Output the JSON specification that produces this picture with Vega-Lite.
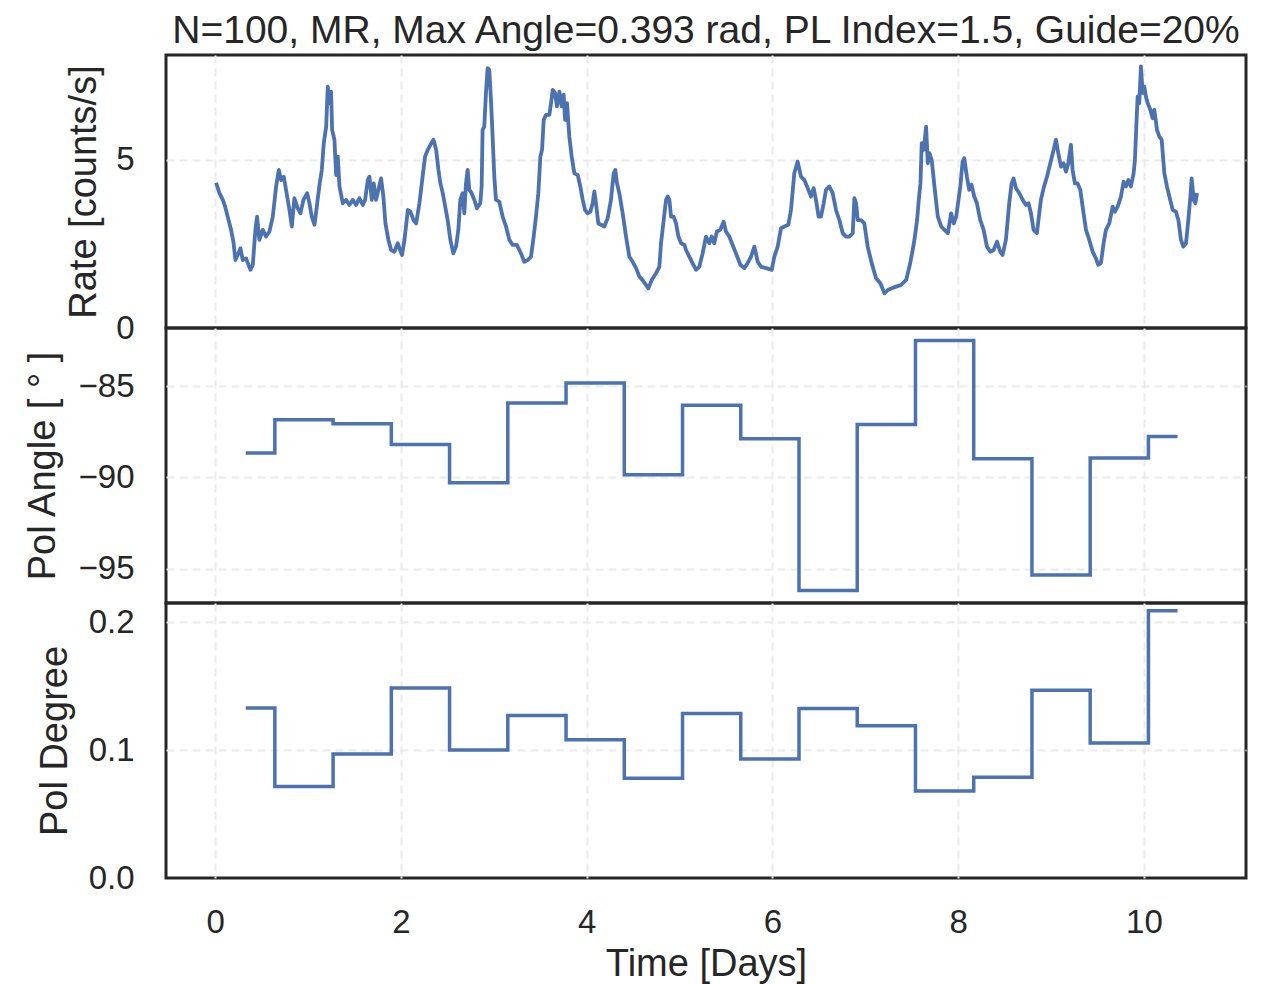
{
  "$schema": "https://vega.github.io/schema/vega-lite/v6.json",
  "background": "white",
  "padding": {"left": 22, "top": 10, "right": 10, "bottom": 5},
  "spacing": 0,
  "bounds": "flush",
  "config": {
    "view": {"stroke": "#262626", "strokeWidth": 3},
    "axis": {
      "grid": true, "gridColor": "#ebebeb", "gridDash": [8, 5], "gridWidth": 2,
      "domain": false, "ticks": false,
      "labelFont": "Liberation Sans", "labelFontSize": 33, "labelColor": "#262626", "labelPadding": 32,
      "titleFont": "Liberation Sans", "titleFontSize": 38, "titleFontWeight": "normal", "titleColor": "#262626"
    },
    "axisX": {"labelPadding": 28, "titlePadding": 6},
    "title": {"font": "Liberation Sans", "fontSize": 39, "fontWeight": "normal", "color": "#262626"}
  },
  "datasets": {
    "rate": [
      {"t":0.011,"rate":4.32},{"t":0.047,"rate":4.01},{"t":0.083,"rate":3.81},{"t":0.108,"rate":3.61},{"t":0.136,"rate":3.31},
      {"t":0.172,"rate":2.92},{"t":0.197,"rate":2.57},{"t":0.219,"rate":2.02},{"t":0.251,"rate":2.22},{"t":0.273,"rate":2.37},
      {"t":0.298,"rate":2.02},{"t":0.334,"rate":2.07},{"t":0.381,"rate":1.73},{"t":0.406,"rate":1.88},{"t":0.434,"rate":2.92},
      {"t":0.452,"rate":3.31},{"t":0.477,"rate":2.62},{"t":0.513,"rate":2.92},{"t":0.549,"rate":2.72},{"t":0.585,"rate":2.87},
      {"t":0.621,"rate":3.31},{"t":0.657,"rate":4.21},{"t":0.686,"rate":4.70},{"t":0.711,"rate":4.40},{"t":0.740,"rate":4.50},
      {"t":0.776,"rate":3.91},{"t":0.801,"rate":3.51},{"t":0.826,"rate":3.02},{"t":0.854,"rate":3.86},{"t":0.890,"rate":3.56},
      {"t":0.919,"rate":3.41},{"t":0.951,"rate":3.81},{"t":0.991,"rate":4.01},{"t":1.016,"rate":3.71},{"t":1.041,"rate":3.31},
      {"t":1.070,"rate":3.07},{"t":1.095,"rate":3.61},{"t":1.124,"rate":4.26},{"t":1.149,"rate":4.70},{"t":1.170,"rate":5.50},
      {"t":1.196,"rate":5.99},{"t":1.213,"rate":7.18},{"t":1.231,"rate":6.69},{"t":1.249,"rate":7.03},{"t":1.260,"rate":5.89},
      {"t":1.285,"rate":5.60},{"t":1.303,"rate":4.55},{"t":1.321,"rate":5.10},{"t":1.339,"rate":4.21},{"t":1.375,"rate":3.71},
      {"t":1.411,"rate":3.81},{"t":1.446,"rate":3.66},{"t":1.482,"rate":3.81},{"t":1.518,"rate":3.66},{"t":1.554,"rate":3.86},
      {"t":1.590,"rate":3.66},{"t":1.615,"rate":3.81},{"t":1.644,"rate":4.40},{"t":1.662,"rate":4.50},{"t":1.687,"rate":3.81},
      {"t":1.708,"rate":4.30},{"t":1.733,"rate":3.81},{"t":1.758,"rate":4.11},{"t":1.787,"rate":4.45},{"t":1.812,"rate":3.91},
      {"t":1.834,"rate":3.11},{"t":1.866,"rate":2.62},{"t":1.895,"rate":2.32},{"t":1.931,"rate":2.27},{"t":1.967,"rate":2.52},
      {"t":1.992,"rate":2.32},{"t":2.013,"rate":2.17},{"t":2.039,"rate":2.62},{"t":2.075,"rate":3.51},{"t":2.103,"rate":3.46},
      {"t":2.136,"rate":3.21},{"t":2.164,"rate":3.11},{"t":2.200,"rate":3.71},{"t":2.236,"rate":4.55},{"t":2.261,"rate":5.10},
      {"t":2.290,"rate":5.30},{"t":2.318,"rate":5.45},{"t":2.351,"rate":5.60},{"t":2.380,"rate":5.30},{"t":2.405,"rate":4.70},
      {"t":2.426,"rate":4.30},{"t":2.451,"rate":4.01},{"t":2.504,"rate":3.21},{"t":2.533,"rate":2.62},{"t":2.565,"rate":2.22},
      {"t":2.594,"rate":2.42},{"t":2.619,"rate":2.92},{"t":2.640,"rate":3.81},{"t":2.665,"rate":4.01},{"t":2.683,"rate":3.41},
      {"t":2.701,"rate":4.30},{"t":2.719,"rate":4.70},{"t":2.737,"rate":4.11},{"t":2.762,"rate":4.01},{"t":2.791,"rate":3.81},
      {"t":2.819,"rate":3.56},{"t":2.855,"rate":3.71},{"t":2.870,"rate":4.21},{"t":2.880,"rate":5.89},{"t":2.898,"rate":5.99},
      {"t":2.916,"rate":6.98},{"t":2.934,"rate":7.73},{"t":2.952,"rate":7.68},{"t":2.970,"rate":6.79},{"t":2.988,"rate":5.69},
      {"t":3.006,"rate":4.50},{"t":3.024,"rate":3.81},{"t":3.060,"rate":3.76},{"t":3.096,"rate":3.31},{"t":3.132,"rate":3.02},
      {"t":3.168,"rate":2.62},{"t":3.204,"rate":2.47},{"t":3.250,"rate":2.47},{"t":3.293,"rate":2.22},{"t":3.329,"rate":1.97},
      {"t":3.365,"rate":2.02},{"t":3.401,"rate":2.12},{"t":3.430,"rate":2.72},{"t":3.455,"rate":3.31},{"t":3.480,"rate":4.01},
      {"t":3.502,"rate":5.10},{"t":3.520,"rate":5.30},{"t":3.538,"rate":6.19},{"t":3.563,"rate":6.34},{"t":3.599,"rate":6.34},
      {"t":3.617,"rate":6.69},{"t":3.635,"rate":7.08},{"t":3.660,"rate":6.99},{"t":3.681,"rate":6.59},{"t":3.707,"rate":7.03},
      {"t":3.732,"rate":6.59},{"t":3.753,"rate":6.94},{"t":3.768,"rate":6.19},{"t":3.789,"rate":6.69},{"t":3.814,"rate":5.69},
      {"t":3.839,"rate":5.10},{"t":3.868,"rate":4.60},{"t":3.904,"rate":4.55},{"t":3.932,"rate":4.21},{"t":3.958,"rate":3.81},
      {"t":3.983,"rate":3.51},{"t":4.011,"rate":3.41},{"t":4.040,"rate":3.46},{"t":4.065,"rate":3.71},{"t":4.083,"rate":4.06},
      {"t":4.101,"rate":3.71},{"t":4.126,"rate":3.11},{"t":4.154,"rate":3.07},{"t":4.190,"rate":3.02},{"t":4.226,"rate":3.26},
      {"t":4.262,"rate":3.81},{"t":4.291,"rate":4.60},{"t":4.309,"rate":4.70},{"t":4.327,"rate":4.30},{"t":4.352,"rate":4.01},
      {"t":4.388,"rate":3.41},{"t":4.424,"rate":2.72},{"t":4.460,"rate":2.12},{"t":4.496,"rate":1.97},{"t":4.532,"rate":1.78},
      {"t":4.568,"rate":1.53},{"t":4.614,"rate":1.38},{"t":4.665,"rate":1.18},{"t":4.701,"rate":1.43},{"t":4.747,"rate":1.63},
      {"t":4.783,"rate":1.82},{"t":4.801,"rate":2.52},{"t":4.830,"rate":3.21},{"t":4.855,"rate":3.81},{"t":4.873,"rate":3.91},
      {"t":4.891,"rate":3.81},{"t":4.909,"rate":3.31},{"t":4.937,"rate":3.31},{"t":4.963,"rate":3.11},{"t":4.988,"rate":2.72},
      {"t":5.017,"rate":2.52},{"t":5.053,"rate":2.47},{"t":5.070,"rate":2.32},{"t":5.124,"rate":2.02},{"t":5.178,"rate":1.73},
      {"t":5.213,"rate":1.82},{"t":5.249,"rate":2.22},{"t":5.285,"rate":2.72},{"t":5.320,"rate":2.52},{"t":5.346,"rate":2.72},
      {"t":5.374,"rate":2.52},{"t":5.403,"rate":2.87},{"t":5.439,"rate":2.92},{"t":5.475,"rate":3.16},{"t":5.500,"rate":2.87},
      {"t":5.536,"rate":2.72},{"t":5.572,"rate":2.47},{"t":5.608,"rate":2.22},{"t":5.655,"rate":1.88},{"t":5.698,"rate":1.78},
      {"t":5.734,"rate":1.93},{"t":5.770,"rate":2.12},{"t":5.806,"rate":2.42},{"t":5.842,"rate":1.97},{"t":5.878,"rate":1.82},
      {"t":5.932,"rate":1.78},{"t":5.993,"rate":1.73},{"t":6.021,"rate":2.12},{"t":6.057,"rate":2.42},{"t":6.093,"rate":2.97},
      {"t":6.129,"rate":3.02},{"t":6.172,"rate":3.07},{"t":6.200,"rate":3.51},{"t":6.236,"rate":4.60},{"t":6.272,"rate":4.95},
      {"t":6.308,"rate":4.50},{"t":6.344,"rate":4.40},{"t":6.380,"rate":4.16},{"t":6.416,"rate":3.91},{"t":6.444,"rate":4.16},
      {"t":6.469,"rate":3.81},{"t":6.498,"rate":3.31},{"t":6.523,"rate":3.31},{"t":6.552,"rate":3.71},{"t":6.577,"rate":4.11},
      {"t":6.613,"rate":4.21},{"t":6.649,"rate":4.01},{"t":6.685,"rate":3.51},{"t":6.721,"rate":3.21},{"t":6.757,"rate":2.82},
      {"t":6.793,"rate":2.72},{"t":6.829,"rate":2.72},{"t":6.865,"rate":2.82},{"t":6.883,"rate":3.86},{"t":6.901,"rate":3.71},
      {"t":6.919,"rate":3.21},{"t":6.955,"rate":3.21},{"t":6.990,"rate":3.11},{"t":7.026,"rate":2.42},{"t":7.069,"rate":1.93},
      {"t":7.116,"rate":1.48},{"t":7.163,"rate":1.33},{"t":7.206,"rate":1.03},{"t":7.242,"rate":1.13},{"t":7.285,"rate":1.18},
      {"t":7.332,"rate":1.23},{"t":7.386,"rate":1.28},{"t":7.440,"rate":1.43},{"t":7.475,"rate":1.82},{"t":7.504,"rate":2.22},
      {"t":7.529,"rate":2.62},{"t":7.558,"rate":3.21},{"t":7.576,"rate":3.81},{"t":7.594,"rate":4.30},{"t":7.608,"rate":5.50},
      {"t":7.630,"rate":5.30},{"t":7.655,"rate":5.99},{"t":7.673,"rate":4.90},{"t":7.691,"rate":5.20},{"t":7.716,"rate":4.99},
      {"t":7.745,"rate":4.21},{"t":7.781,"rate":3.31},{"t":7.817,"rate":3.02},{"t":7.853,"rate":2.92},{"t":7.889,"rate":2.82},
      {"t":7.924,"rate":3.41},{"t":7.953,"rate":3.11},{"t":7.978,"rate":3.31},{"t":7.994,"rate":3.61},{"t":8.023,"rate":4.21},
      {"t":8.048,"rate":4.95},{"t":8.066,"rate":5.05},{"t":8.094,"rate":4.50},{"t":8.119,"rate":4.11},{"t":8.144,"rate":4.26},
      {"t":8.173,"rate":3.91},{"t":8.202,"rate":3.71},{"t":8.238,"rate":3.21},{"t":8.274,"rate":2.92},{"t":8.310,"rate":2.42},
      {"t":8.346,"rate":2.27},{"t":8.382,"rate":2.32},{"t":8.418,"rate":2.57},{"t":8.453,"rate":2.27},{"t":8.478,"rate":2.17},
      {"t":8.514,"rate":2.62},{"t":8.550,"rate":3.71},{"t":8.575,"rate":4.30},{"t":8.597,"rate":4.45},{"t":8.622,"rate":4.16},
      {"t":8.658,"rate":4.01},{"t":8.694,"rate":3.81},{"t":8.730,"rate":3.66},{"t":8.758,"rate":3.71},{"t":8.784,"rate":3.41},
      {"t":8.812,"rate":2.92},{"t":8.848,"rate":2.82},{"t":8.873,"rate":3.41},{"t":8.891,"rate":3.81},{"t":8.920,"rate":4.16},
      {"t":8.956,"rate":4.50},{"t":8.992,"rate":4.90},{"t":9.028,"rate":5.30},{"t":9.053,"rate":5.60},{"t":9.078,"rate":5.20},
      {"t":9.107,"rate":4.80},{"t":9.135,"rate":4.90},{"t":9.161,"rate":4.65},{"t":9.186,"rate":4.90},{"t":9.214,"rate":5.45},
      {"t":9.232,"rate":4.70},{"t":9.257,"rate":4.30},{"t":9.286,"rate":4.30},{"t":9.315,"rate":4.11},{"t":9.340,"rate":3.61},
      {"t":9.376,"rate":2.92},{"t":9.412,"rate":2.62},{"t":9.448,"rate":2.27},{"t":9.483,"rate":2.07},{"t":9.508,"rate":1.88},
      {"t":9.537,"rate":1.93},{"t":9.566,"rate":2.52},{"t":9.591,"rate":2.92},{"t":9.627,"rate":3.11},{"t":9.663,"rate":3.61},
      {"t":9.688,"rate":3.46},{"t":9.717,"rate":3.61},{"t":9.753,"rate":3.91},{"t":9.781,"rate":4.35},{"t":9.806,"rate":4.21},
      {"t":9.832,"rate":4.40},{"t":9.860,"rate":4.21},{"t":9.889,"rate":4.60},{"t":9.903,"rate":4.99},{"t":9.918,"rate":5.99},
      {"t":9.932,"rate":6.88},{"t":9.950,"rate":6.69},{"t":9.968,"rate":7.78},{"t":9.986,"rate":6.99},{"t":10.004,"rate":7.18},
      {"t":10.022,"rate":6.88},{"t":10.040,"rate":6.69},{"t":10.069,"rate":6.49},{"t":10.094,"rate":6.24},{"t":10.112,"rate":6.49},
      {"t":10.141,"rate":5.89},{"t":10.166,"rate":5.69},{"t":10.191,"rate":5.60},{"t":10.220,"rate":4.60},{"t":10.248,"rate":4.21},
      {"t":10.274,"rate":3.91},{"t":10.310,"rate":3.51},{"t":10.345,"rate":3.46},{"t":10.371,"rate":3.21},{"t":10.399,"rate":2.62},
      {"t":10.424,"rate":2.42},{"t":10.453,"rate":2.52},{"t":10.478,"rate":3.21},{"t":10.500,"rate":3.91},{"t":10.514,"rate":4.45},
      {"t":10.536,"rate":3.81},{"t":10.554,"rate":3.71},{"t":10.572,"rate":4.01}
    ],
    "pol": [
      {"t":0.330,"angle":-88.66,"degree":0.133},
      {"t":0.957,"angle":-86.83,"degree":0.0715},
      {"t":1.584,"angle":-87.05,"degree":0.097},
      {"t":2.211,"angle":-88.19,"degree":0.1485},
      {"t":2.838,"angle":-90.29,"degree":0.100},
      {"t":3.465,"angle":-85.92,"degree":0.127},
      {"t":4.092,"angle":-84.82,"degree":0.108},
      {"t":4.719,"angle":-89.85,"degree":0.078},
      {"t":5.346,"angle":-86.04,"degree":0.1286},
      {"t":5.973,"angle":-87.88,"degree":0.093},
      {"t":6.600,"angle":-96.20,"degree":0.1325},
      {"t":7.227,"angle":-87.10,"degree":0.119},
      {"t":7.854,"angle":-82.49,"degree":0.068},
      {"t":8.481,"angle":-88.97,"degree":0.0787},
      {"t":9.108,"angle":-95.35,"degree":0.1467},
      {"t":9.735,"angle":-88.94,"degree":0.1055},
      {"t":10.362,"angle":-87.75,"degree":0.209}
    ]
  },
  "vconcat": [
    {
      "width": 1080, "height": 273,
      "title": {"text": "N=100, MR, Max Angle=0.393 rad, PL Index=1.5, Guide=20%", "anchor": "middle", "frame": "group", "offset": 4},
      "data": {"name": "rate"},
      "mark": {"type": "line", "color": "#4c72b0", "strokeWidth": 3.8, "strokeJoin": "round"},
      "encoding": {
        "x": {"field": "t", "type": "quantitative", "scale": {"domain": [-0.5285, 11.099], "nice": false, "zero": false},
              "axis": {"values": [0, 2, 4, 6, 8, 10], "labels": false, "labelPadding": 0, "title": null, "minExtent": 0, "maxExtent": 0}},
        "y": {"field": "rate", "type": "quantitative", "scale": {"domain": [0, 8.12], "nice": false},
              "axis": {"values": [0, 5], "title": "Rate [counts/s]", "titlePadding": 12,
                       "gridOpacity": {"condition": {"test": "datum.value === 0", "value": 0}, "value": 1}}}
      }
    },
    {
      "width": 1080, "height": 275,
      "data": {"name": "pol"},
      "mark": {"type": "line", "color": "#4c72b0", "strokeWidth": 3.5, "interpolate": "step"},
      "encoding": {
        "x": {"field": "t", "type": "quantitative", "scale": {"domain": [-0.5285, 11.099], "nice": false, "zero": false},
              "axis": {"values": [0, 2, 4, 6, 8, 10], "labels": false, "labelPadding": 0, "title": null, "minExtent": 0, "maxExtent": 0}},
        "y": {"field": "angle", "type": "quantitative", "scale": {"domain": [-96.89, -81.8], "nice": false, "zero": false},
              "axis": {"values": [-95, -90, -85], "title": "Pol Angle [ ° ]", "titlePadding": 16}}
      }
    },
    {
      "width": 1080, "height": 275,
      "data": {"name": "pol"},
      "mark": {"type": "line", "color": "#4c72b0", "strokeWidth": 3.5, "interpolate": "step"},
      "encoding": {
        "x": {"field": "t", "type": "quantitative", "scale": {"domain": [-0.5285, 11.099], "nice": false, "zero": false},
              "axis": {"values": [0, 2, 4, 6, 8, 10], "title": "Time [Days]"}},
        "y": {"field": "degree", "type": "quantitative", "scale": {"domain": [0, 0.215], "nice": false},
              "axis": {"values": [0, 0.1, 0.2], "format": ".1f", "title": "Pol Degree", "titlePadding": 14,
                       "gridOpacity": {"condition": {"test": "datum.value === 0", "value": 0}, "value": 1}}}
      }
    }
  ]
}
